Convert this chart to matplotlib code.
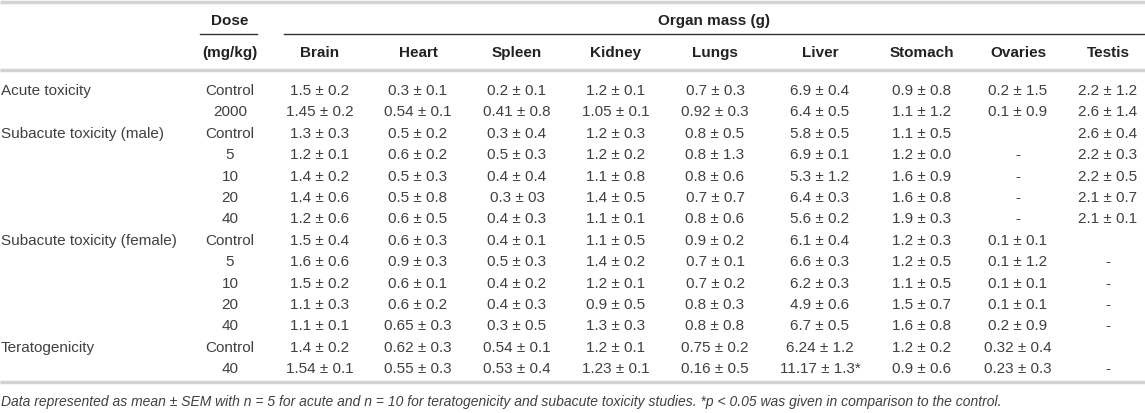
import matplotlib.pyplot as plt

plt.rcParams['font.family'] = ['Liberation Sans', 'DejaVu Sans']

# Datos de la tabla
grupos = ['Acute toxicity', '', 'Subacute toxicity (male)', '', '', '', '',
          'Subacute toxicity (female)', '', '', '', '', 'Teratogenicity', '']
dosis = ['Control', '2000', 'Control', '5', '10', '20', '40',
         'Control', '5', '10', '20', '40', 'Control', '40']
organos = ['Brain', 'Heart', 'Spleen', 'Kidney', 'Lungs', 'Liver', 'Stomach', 'Ovaries', 'Testis']

brain = ['1.5 ± 0.2', '1.45 ± 0.2', '1.3 ± 0.3', '1.2 ± 0.1', '1.4 ± 0.2', '1.4 ± 0.6', '1.2 ± 0.6',
         '1.5 ± 0.4', '1.6 ± 0.6', '1.5 ± 0.2', '1.1 ± 0.3', '1.1 ± 0.1', '1.4 ± 0.2', '1.54 ± 0.1']
heart = ['0.3 ± 0.1', '0.54 ± 0.1', '0.5 ± 0.2', '0.6 ± 0.2', '0.5 ± 0.3', '0.5 ± 0.8', '0.6 ± 0.5',
         '0.6 ± 0.3', '0.9 ± 0.3', '0.6 ± 0.1', '0.6 ± 0.2', '0.65 ± 0.3', '0.62 ± 0.3', '0.55 ± 0.3']
spleen = ['0.2 ± 0.1', '0.41 ± 0.8', '0.3 ± 0.4', '0.5 ± 0.3', '0.4 ± 0.4', '0.3 ± 03', '0.4 ± 0.3',
          '0.4 ± 0.1', '0.5 ± 0.3', '0.4 ± 0.2', '0.4 ± 0.3', '0.3 ± 0.5', '0.54 ± 0.1', '0.53 ± 0.4']
kidney = ['1.2 ± 0.1', '1.05 ± 0.1', '1.2 ± 0.3', '1.2 ± 0.2', '1.1 ± 0.8', '1.4 ± 0.5', '1.1 ± 0.1',
          '1.1 ± 0.5', '1.4 ± 0.2', '1.2 ± 0.1', '0.9 ± 0.5', '1.3 ± 0.3', '1.2 ± 0.1', '1.23 ± 0.1']
lungs = ['0.7 ± 0.3', '0.92 ± 0.3', '0.8 ± 0.5', '0.8 ± 1.3', '0.8 ± 0.6', '0.7 ± 0.7', '0.8 ± 0.6',
         '0.9 ± 0.2', '0.7 ± 0.1', '0.7 ± 0.2', '0.8 ± 0.3', '0.8 ± 0.8', '0.75 ± 0.2', '0.16 ± 0.5']
liver = ['6.9 ± 0.4', '6.4 ± 0.5', '5.8 ± 0.5', '6.9 ± 0.1', '5.3 ± 1.2', '6.4 ± 0.3', '5.6 ± 0.2',
         '6.1 ± 0.4', '6.6 ± 0.3', '6.2 ± 0.3', '4.9 ± 0.6', '6.7 ± 0.5', '6.24 ± 1.2', '11.17 ± 1.3*']
stomach = ['0.9 ± 0.8', '1.1 ± 1.2', '1.1 ± 0.5', '1.2 ± 0.0', '1.6 ± 0.9', '1.6 ± 0.8', '1.9 ± 0.3',
           '1.2 ± 0.3', '1.2 ± 0.5', '1.1 ± 0.5', '1.5 ± 0.7', '1.6 ± 0.8', '1.2 ± 0.2', '0.9 ± 0.6']
ovaries = ['0.2 ± 1.5', '0.1 ± 0.9', '', '-', '-', '-', '-',
           '0.1 ± 0.1', '0.1 ± 1.2', '0.1 ± 0.1', '0.1 ± 0.1', '0.2 ± 0.9', '0.32 ± 0.4', '0.23 ± 0.3']
testis = ['2.2 ± 1.2', '2.6 ± 1.4', '2.6 ± 0.4', '2.2 ± 0.3', '2.2 ± 0.5', '2.1 ± 0.7', '2.1 ± 0.1',
          '', '-', '-', '-', '-', '', '-']
columnas = [brain, heart, spleen, kidney, lungs, liver, stomach, ovaries, testis]

nota = ('Data represented as mean ± SEM with n = 5 for acute and n = 10 for teratogenicity '
        'and subacute toxicity studies. *p < 0.05 was given in comparison to the control.')

# Lienzo en pixeles
fig = plt.figure(figsize=(11.45, 4.13), dpi=100)
ax = fig.add_axes([0, 0, 1, 1])
ax.set_xlim(0, 1145)
ax.set_ylim(413, 0)
ax.axis('off')

fs = 11
gris = '#404040'
x_dosis = 230
x_cols = [320, 418, 517, 616, 715, 820, 922, 1018, 1108]

# Lineas horizontales
for yl in [2, 70, 382]:
    ax.plot([0, 1145], [yl, yl], color='#d3d3d3', lw=2.5, solid_capstyle='butt')
ax.plot([200, 257], [34, 34], color='#333333', lw=1.0)
ax.plot([284, 1145], [34, 34], color='#333333', lw=1.0)

# Encabezados
ax.text(x_dosis, 21, 'Dose', ha='center', va='center', fontsize=fs, fontweight='bold', color='#222222')
ax.text(x_dosis, 53, '(mg/kg)', ha='center', va='center', fontsize=fs, fontweight='bold', color='#222222')
ax.text(714, 21, 'Organ mass (g)', ha='center', va='center', fontsize=fs, fontweight='bold', color='#222222')
for x, org in zip(x_cols, organos):
    ax.text(x, 53, org, ha='center', va='center', fontsize=fs, fontweight='bold', color='#222222')

# Filas
y0, dy = 91, 21.4
for i in range(len(dosis)):
    y = y0 + i * dy
    if grupos[i]:
        ax.text(1, y, grupos[i], ha='left', va='center', fontsize=fs, color=gris)
    ax.text(x_dosis, y, dosis[i], ha='center', va='center', fontsize=fs, color=gris)
    for x, col in zip(x_cols, columnas):
        if col[i]:
            ax.text(x, y, col[i], ha='center', va='center', fontsize=fs, color=gris)

ax.text(1, 402, nota, ha='left', va='center', fontsize=10, style='italic', color=gris)

plt.savefig('out.png', dpi=100)
plt.close()
